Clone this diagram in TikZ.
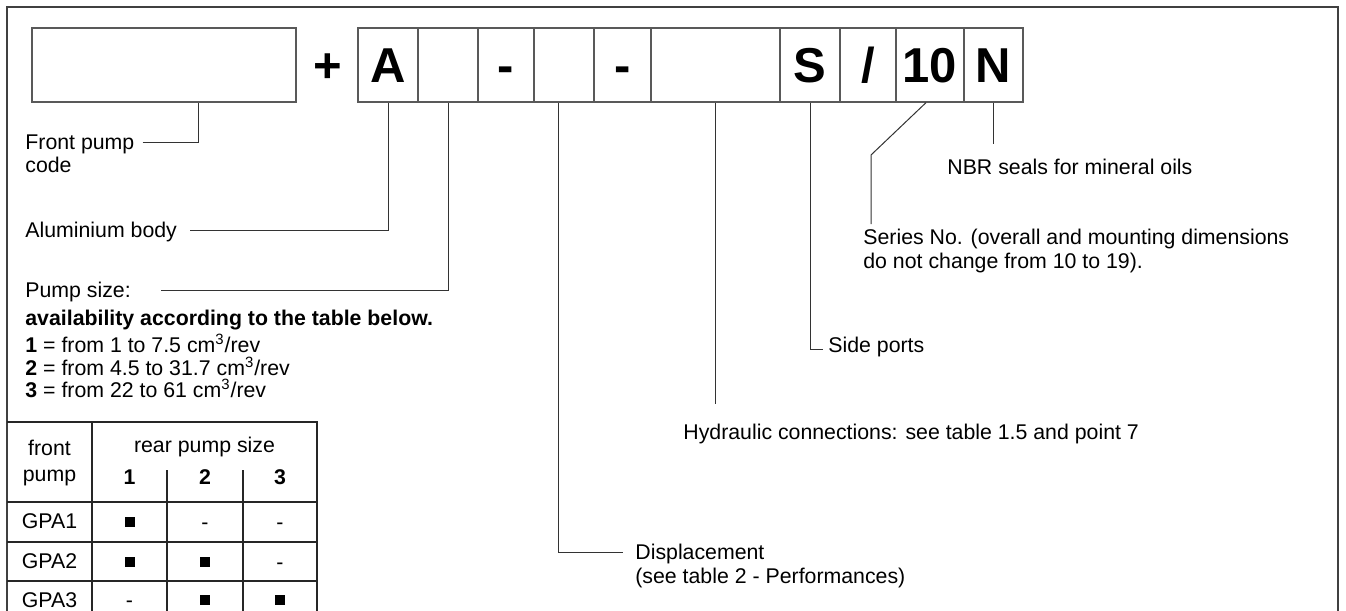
\documentclass[tikz,border=0pt]{standalone}
\usepackage{fontspec}
\setmainfont{Liberation Sans}
\usetikzlibrary{positioning, calc}

\newcommand{\lblfont}{\fontsize{10.65}{12.5}\selectfont}
\newcommand{\codefont}{\fontsize{24.5}{28}\selectfont\bfseries}

\begin{document}
\begin{tikzpicture}[x=0.5pt, y=-0.5pt,
  cell/.style={draw=black!65, line width=0.65pt, minimum height=37pt, inner sep=0pt, text height=17.5pt, text depth=0pt, font=\codefont},
  lbl/.style={inner sep=0pt, anchor=west, text height=7.6pt, text depth=0pt, font=\lblfont},
  tbl/.style={inner sep=0pt, text height=7.6pt, text depth=0pt, font=\lblfont},
  lead/.style={line width=0.5pt, black!80},
  tline/.style={line width=0.75pt, black!85},
  frame/.style={line width=1pt, black!75},
  sq/.style={fill=black, minimum size=5pt, inner sep=0pt}]
  \useasboundingbox (0,0) rectangle (1346,611);
  \draw[frame] (7,611) -- (7,7) -- (1338,7) -- (1338,611);

  \node[cell, minimum width=132pt] (front) at (164,65) {};
  \node[inner sep=0pt, text height=17.5pt, text depth=0pt, font=\codefont] (plus) at (328,65) {+};
  \node[cell, minimum width=30pt] (cA) at (388,65) {A};
  \node[cell, minimum width=30pt] (c2) at (448,65) {};
  \node[cell, minimum width=28pt] (c3) at (506,65) {-};
  \node[cell, minimum width=30pt] (c4) at (564,65) {};
  \node[cell, minimum width=28.5pt] (c5) at (622.5,65) {-};
  \node[cell, minimum width=64.5pt] (c6) at (715.5,65) {};
  \node[cell, minimum width=30pt] (cS) at (810,65) {S};
  \node[cell, minimum width=28pt] (cSl) at (868,65) {/};
  \node[cell, minimum width=34pt] (c10) at (930,65) {10};
  \node[cell, minimum width=29.5pt] (cN) at (993.5,65) {N};

  \node[lbl] (fpl) at (25,142) {Front pump};
  \node[lbl] (fpc) at (25,165) {code};
  \node[lbl] (alu) at (25,230) {Aluminium body};
  \node[lbl] (psz) at (25,290) {Pump size:};
  \node[lbl, font=\lblfont\bfseries] (avl) at (25,318) {availability according to the table below.};
  \node[lbl] (sz1) at (25,345) {\textbf{1} = from 1 to 7.5 cm\textsuperscript{3}/rev};
  \node[lbl] (sz2) at (25,368) {\textbf{2} = from 4.5 to 31.7 cm\textsuperscript{3}/rev};
  \node[lbl] (sz3) at (25,390) {\textbf{3} = from 22 to 61 cm\textsuperscript{3}/rev};

  \node[lbl] (nbr) at (947,167) {NBR seals for mineral oils};
  \node[lbl] (ser) at (863,237) {Series No. (overall and mounting dimensions};
  \node[lbl] (ser2) at (863,261) {do not change from 10 to 19).};
  \node[lbl] (side) at (828,345) {Side ports};
  \node[lbl] (hyd) at (683,432) {Hydraulic connections: see table 1.5 and point 7};
  \node[lbl] (dis) at (635,552) {Displacement};
  \node[lbl] (dis2) at (635,576) {(see table 2 - Performances)};

  \coordinate (nend) at (993.5,144);
  \coordinate (tenbend) at (871,155);
  \coordinate (tenend) at (871,224);
  \coordinate (sideend) at (823,349);
  \coordinate (hydend) at (715.5,404);

  \draw[lead] ([xshift=4pt]fpl.east) -| ([xshift=17pt]front.south);
  \draw[lead] ([xshift=6.5pt]alu.east) -| (cA.south);
  \draw[lead] ([xshift=15pt]psz.east) -| (c2.south);
  \draw[lead] ([xshift=-3pt]c4.south) |- ([xshift=-6pt]dis.west);
  \draw[lead] (c6.south) -- (hydend);
  \draw[lead] (cS.south) |- (sideend);
  \draw[lead] ([xshift=-2pt]c10.south) -- (tenbend) -- (tenend);
  \draw[lead] (cN.south) -- (nend);

  \draw[tline] (7,422) -- (317,422) -- (317,611);
  \draw[tline] (92,422) -- (92,611);
  \draw[tline] (167,470) -- (167,611);
  \draw[tline] (243,470) -- (243,611);
  \draw[tline] (7,502) -- (317,502);
  \draw[tline] (7,542) -- (317,542);
  \draw[tline] (7,581) -- (317,581);

  \node[tbl] (hfront) at (49.5,448) {front};
  \node[tbl] (hpump) at (49.5,474) {pump};
  \node[tbl] (hrear) at (204.5,445) {rear pump size};
  \node[tbl, font=\lblfont\bfseries] (h1) at (129.5,477) {1};
  \node[tbl, font=\lblfont\bfseries] (h2) at (205,477) {2};
  \node[tbl, font=\lblfont\bfseries] (h3) at (280,477) {3};
  \node[tbl] (g1) at (49.5,521) {GPA1};
  \node[tbl] (g2) at (49.5,561) {GPA2};
  \node[tbl] (g3) at (49.5,600) {GPA3};

  \node[sq] (s11) at (129.5,522) {};
  \node[tbl] (d12) at (205,522) {-};
  \node[tbl] (d13) at (280,522) {-};
  \node[sq] (s21) at (129.5,561.5) {};
  \node[sq] (s22) at (205,561.5) {};
  \node[tbl] (d23) at (280,561.5) {-};
  \node[tbl] (d31) at (129.5,600) {-};
  \node[sq] (s32) at (205,600) {};
  \node[sq] (s33) at (280,600) {};
\end{tikzpicture}
\end{document}
